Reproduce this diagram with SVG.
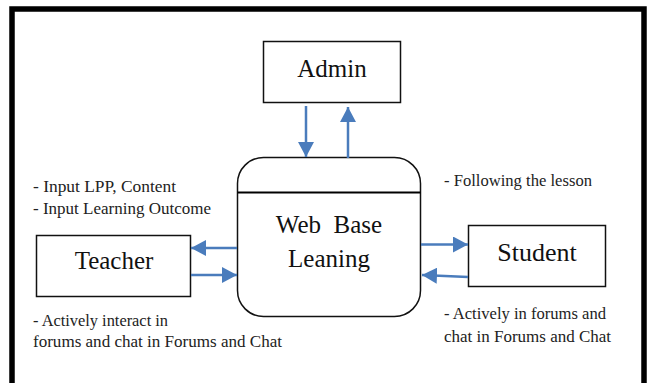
<svg xmlns="http://www.w3.org/2000/svg" width="647" height="383" viewBox="0 0 647 383">
<defs>
<style>
.box{fill:#fff;stroke:#111;stroke-width:1.5}
.node{font-family:"Liberation Serif","Times New Roman",serif;font-size:25px;fill:#111;text-anchor:middle}
.lbl{font-family:"Liberation Serif","Times New Roman",serif;font-size:16px;fill:#222}
.con{stroke:#4a7cbc;stroke-width:2.5;fill:none;marker-end:url(#ah)}
</style>
<marker id="ah" markerUnits="userSpaceOnUse" markerWidth="16" markerHeight="16" refX="15" refY="8" orient="auto">
<path d="M0,0 L15,8 L0,16 Z" fill="#4a7cbc"/>
</marker>
</defs>
<rect x="0" y="0" width="647" height="383" fill="#fff"/>
<rect x="12" y="9" width="632" height="400" fill="none" stroke="#000" stroke-width="5.5"/>
<g id="admin">
<rect class="box" x="263.5" y="41.5" width="137" height="61"/>
<text class="node" x="332" y="77">Admin</text>
</g>
<g id="web">
<rect class="box" x="237.5" y="157.5" width="183" height="159" rx="26" ry="26"/>
<line x1="237.5" y1="192.5" x2="420.5" y2="192.5" stroke="#000" stroke-width="2"/>
<text class="node" x="329" y="233" xml:space="preserve">Web  Base</text>
<text class="node" x="329" y="267">Leaning</text>
</g>
<g id="teacher">
<rect class="box" x="36.5" y="235.5" width="154" height="61"/>
<text class="node" x="114" y="269">Teacher</text>
</g>
<g id="student">
<rect class="box" x="468.5" y="225.5" width="137" height="61"/>
<text class="node" x="537" y="261" style="font-size:26px">Student</text>
</g>
<g id="connectors">
<line class="con" x1="306" y1="106" x2="306" y2="157"/>
<line class="con" x1="348" y1="158" x2="348" y2="107"/>
<line class="con" x1="237" y1="248" x2="191" y2="248"/>
<line class="con" x1="191" y1="275" x2="237" y2="275"/>
<line class="con" x1="421" y1="244.5" x2="468" y2="244.5"/>
<line class="con" x1="468" y1="277" x2="422" y2="275"/>
</g>
<g id="labels">
<text class="lbl" x="33" y="192" textLength="143" lengthAdjust="spacingAndGlyphs">- Input LPP, Content</text>
<text class="lbl" x="33" y="214" textLength="178" lengthAdjust="spacingAndGlyphs">- Input Learning Outcome</text>
<text class="lbl" x="33" y="326" textLength="135" lengthAdjust="spacingAndGlyphs">- Actively interact in</text>
<text class="lbl" x="33" y="347" textLength="249" lengthAdjust="spacingAndGlyphs">forums and chat in Forums and Chat</text>
<text class="lbl" x="444" y="186" textLength="148" lengthAdjust="spacingAndGlyphs">- Following the lesson</text>
<text class="lbl" x="444" y="319" textLength="162" lengthAdjust="spacingAndGlyphs">- Actively in forums and</text>
<text class="lbl" x="444" y="342" textLength="167" lengthAdjust="spacingAndGlyphs">chat in Forums and Chat</text>
</g>
</svg>
